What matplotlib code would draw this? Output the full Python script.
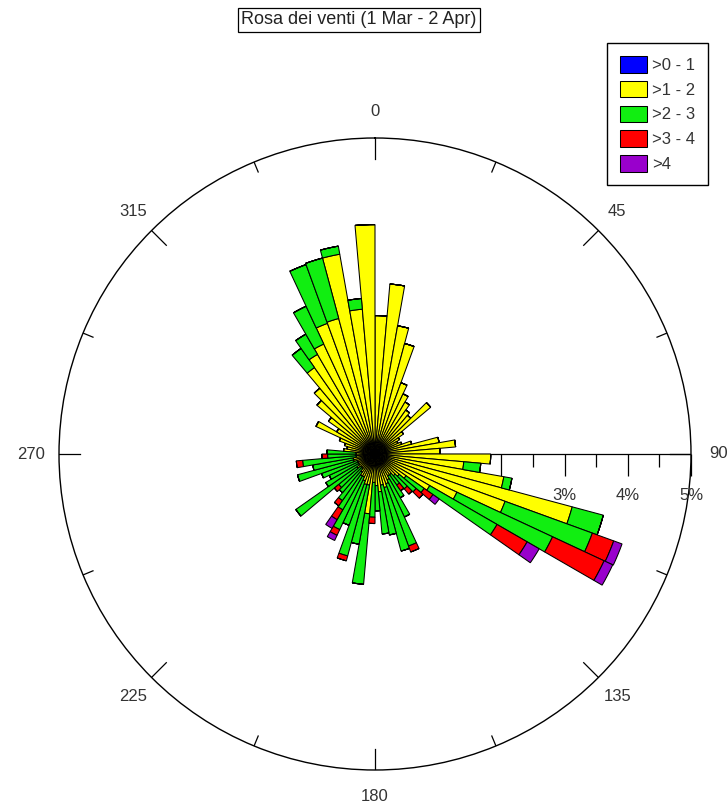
import numpy as np
import matplotlib
matplotlib.use("Agg")
import matplotlib.pyplot as plt

plt.rcParams['font.family'] = ['Liberation Sans', 'DejaVu Sans']

# ---- data -------------------------------------------------------------
title = "Rosa dei venti (1 Mar - 2 Apr)"
class_labels = [">0 - 1", ">1 - 2", ">2 - 3", ">3 - 4", ">4"]
class_colors = ["#0000FF", "#FFFF00", "#11EE11", "#FF0000", "#9900CC"]

# direction bins (start angle, degrees, 5-degree sectors)
dir_start = list(range(0, 360, 5))

# frequency (%) per speed class in each sector
f_0_1 = [0.10] * 72
f_1_2 = [2.09, 2.60, 1.96, 1.71, 1.10, 0.95, 0.85, 0.75, 0.70, 1.05,
         0.45, 0.35, 0.30, 0.35, 0.50, 0.93, 1.18, 0.93, 1.73, 1.31,
         1.97, 3.13, 2.09, 1.33, 0.90, 0.50, 0.40, 0.35, 0.30, 0.30,
         0.35, 0.40, 0.45, 0.40, 0.50, 0.40, 0.35, 0.85, 0.40, 0.40,
         0.35, 0.30, 0.30, 0.25, 0.20, 0.20, 0.25, 0.20, 0.20, 0.20,
         0.25, 0.25, 0.20, 0.20, 0.20, 0.40, 0.35, 0.40, 0.50, 0.93,
         0.60, 0.80, 1.10, 1.26, 1.57, 1.72, 1.82, 2.10, 2.12, 3.11,
         2.20, 3.53]
f_2_3 = [0.00, 0.00, 0.00, 0.00, 0.00, 0.00, 0.00, 0.00, 0.00, 0.00,
         0.00, 0.00, 0.00, 0.00, 0.00, 0.00, 0.00, 0.00, 0.00, 0.27,
         0.13, 0.51, 1.47, 1.67, 1.23, 0.35, 0.35, 0.27, 0.20, 0.40,
         0.65, 1.05, 1.04, 0.80, 0.67, 0.40, 0.55, 1.12, 0.95, 1.17,
         0.75, 0.92, 0.62, 0.55, 0.50, 0.45, 1.18, 0.60, 0.50, 0.60,
         0.92, 0.65, 0.85, 0.45, 0.46, 0.00, 0.00, 0.00, 0.00, 0.00,
         0.00, 0.00, 0.00, 0.00, 0.37, 0.37, 0.66, 0.99, 0.99, 0.13,
         0.17, 0.00]
f_3_4 = [0.00] * 22 + [0.36, 0.90, 0.55, 0.17, 0.14, 0.11, 0.11, 0.00,
                       0.00, 0.10, 0.00, 0.00, 0.00, 0.00, 0.10, 0.00,
                       0.00, 0.08, 0.00, 0.10, 0.18, 0.10, 0.00, 0.09,
                       0.00, 0.00, 0.00, 0.00, 0.00, 0.00, 0.10, 0.09,
                       0.00] + [0.00] * 17
f_4 = [0.00] * 22 + [0.14, 0.15, 0.22, 0.12] + [0.00] * 15 + [0.09, 0.16] + [0.00] * 29

pct_ticks = [3, 4, 5]

# ---- figure -----------------------------------------------------------
W, H = 728, 807
fig = plt.figure(figsize=(W / 100, H / 100), dpi=100)
cx, cy, R = 375, 454, 316
ax = fig.add_axes([(cx - R) / W, (H - cy - R) / H, 2 * R / W, 2 * R / H],
                  projection='polar')
ax.set_theta_zero_location('N')
ax.set_theta_direction(-1)
rmax = 5.0
ax.set_ylim(0, rmax)
ax.grid(False)
ax.set_xticks([])
ax.set_yticks([])
ax.spines['polar'].set_linewidth(1.0)
ax.spines['polar'].set_color('black')

theta = np.deg2rad(np.array(dir_start) + 2.5)
width = np.deg2rad(5)
series = [f_0_1, f_1_2, f_2_3, f_3_4, f_4]
bottom = np.zeros(len(dir_start))
handles = []
for vals, col, lab in zip(series, class_colors, class_labels):
    v = np.array(vals)
    b = ax.bar(theta, v, width=width, bottom=bottom, color=col,
               edgecolor='black', linewidth=0.75, label=lab, zorder=3)
    handles.append(b)
    bottom = bottom + v

# radial axis along 90 degrees
ax.plot([np.pi / 2, np.pi / 2], [0, rmax], color='black', lw=0.9, zorder=2)
for r in np.arange(0.5, rmax + 0.01, 0.5):
    ms = 15.5 if abs(r - round(r)) < 1e-6 else 9.5
    ax.plot([np.pi / 2], [r], marker=3, markersize=ms, color='black',
            markeredgewidth=0.9, zorder=2, clip_on=False)
for p in pct_ticks:
    ax.annotate(f"{p}%", xy=(np.pi / 2, p), xytext=(0, -30),
                textcoords='offset points', ha='center', va='center',
                fontsize=12, color='#333333', annotation_clip=False)

# angular ticks and labels
for a in np.arange(0, 360, 22.5):
    L = 0.33 if a % 45 == 0 else 0.17
    ax.plot([np.deg2rad(a)] * 2, [rmax - L, rmax], color='black', lw=0.9,
            zorder=4)
    if a % 45 == 0:
        rr = 5.44 if a in (90, 270) else 5.42
        ax.text(np.deg2rad(a), rr, f"{int(a)}", ha='center', va='center',
                fontsize=12, color='#333333', clip_on=False)

# title in a box
fig.text(359 / W, 1 - 20 / H, title, ha='center', va='center', fontsize=13,
         color='#222222',
         bbox=dict(boxstyle='square,pad=0.18', fc='white', ec='black', lw=0.9))

# legend
leg = fig.legend(handles, class_labels, loc='upper right',
                 bbox_to_anchor=(708 / W, 1 - 43 / H), frameon=True,
                 fancybox=False, edgecolor='black', framealpha=1,
                 fontsize=12, handlelength=1.6, handleheight=1.15,
                 labelspacing=0.47, borderpad=0.78, handletextpad=0.3,
                 borderaxespad=0)
leg.get_frame().set_linewidth(1.0)
for t in leg.get_texts():
    t.set_color('#333333')

fig.savefig("out.png", dpi=100)
